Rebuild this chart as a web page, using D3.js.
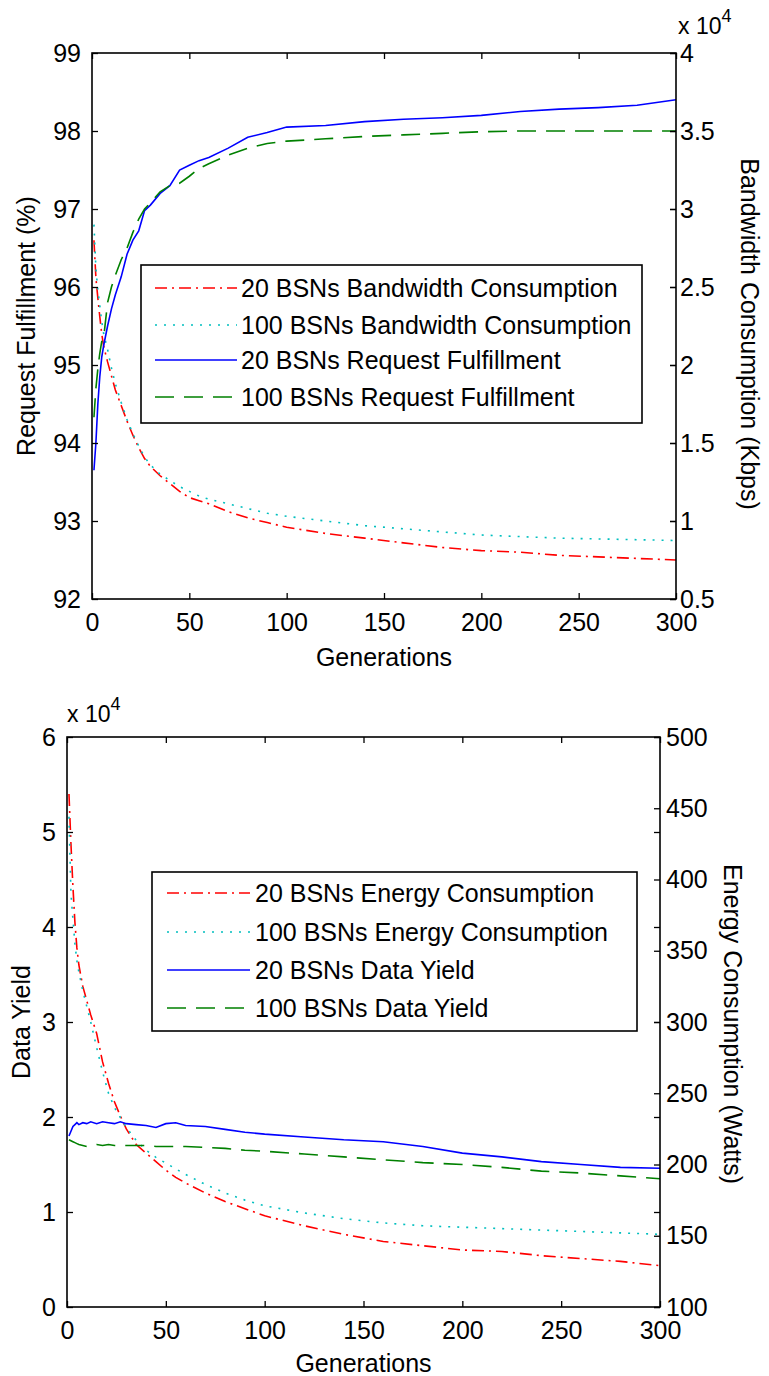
<!DOCTYPE html>
<html>
  <head>
    <meta charset="utf-8">
    <title>BSN generations</title>
    <script type="text/javascript" src="https://d3js.org/d3.v7.min.js"></script>
    <style>
      body { margin: 0; background: #fff; }
      text { font-family: "Liberation Sans", Arial, sans-serif; fill: #000; }
    </style>
  </head>

  <body>
    <script>

    // generations sampled along every curve
    var gens = [1, 2, 3, 4, 5, 6, 8, 10, 12, 15, 18, 21, 24, 27, 30, 35, 40, 45, 50, 55, 60,
                70, 80, 90, 100, 120, 140, 160, 180, 200, 220, 240, 260, 280, 300];

    // top plot: request fulfillment (%) and bandwidth consumption (x 10^4 Kbps)
    var rf20  = [93.65, 94.0, 94.5, 94.85, 95.1, 95.25, 95.5, 95.72, 95.9, 96.13, 96.42, 96.6, 96.72, 96.98, 97.05,
                 97.2, 97.3, 97.5, 97.56, 97.62, 97.66, 97.78, 97.92, 97.98, 98.05, 98.07, 98.12, 98.15, 98.17, 98.2,
                 98.25, 98.28, 98.3, 98.33, 98.4];
    var rf100 = [94.33, 94.7, 94.95, 95.15, 95.3, 95.35, 95.8, 96.0, 96.15, 96.35, 96.5, 96.7, 96.87, 97.0, 97.08,
                 97.22, 97.3, 97.33, 97.42, 97.52, 97.58, 97.69, 97.78, 97.84, 97.87, 97.9, 97.93, 97.95, 97.97, 97.99,
                 98.0, 98.0, 98.0, 98.0, 98.0];
    var bw20  = [2.8, 2.56, 2.43, 2.31, 2.2, 2.12, 2.02, 1.93, 1.84, 1.74, 1.64, 1.55, 1.47, 1.4, 1.35,
                 1.29, 1.24, 1.19, 1.15, 1.13, 1.11, 1.06, 1.02, 0.99, 0.96, 0.92, 0.89, 0.86, 0.83, 0.81,
                 0.8, 0.78, 0.77, 0.76, 0.75];
    var bw100 = [2.9, 2.62, 2.48, 2.38, 2.28, 2.2, 2.1, 1.98, 1.88, 1.76, 1.65, 1.56, 1.48, 1.41, 1.36,
                 1.3, 1.26, 1.22, 1.19, 1.16, 1.14, 1.11, 1.08, 1.05, 1.03, 1.0, 0.97, 0.95, 0.93, 0.91,
                 0.9, 0.89, 0.885, 0.88, 0.875];

    // bottom plot: data yield (x 10^4) and energy consumption (Watts)
    var dy20  = [1.8, 1.85, 1.9, 1.92, 1.94, 1.92, 1.94, 1.93, 1.95, 1.93, 1.95, 1.94, 1.93, 1.95, 1.93,
                 1.92, 1.91, 1.89, 1.93, 1.94, 1.91, 1.9, 1.87, 1.84, 1.82, 1.79, 1.76, 1.74, 1.69, 1.62,
                 1.58, 1.53, 1.5, 1.47, 1.46];
    var dy100 = [1.76, 1.75, 1.74, 1.73, 1.72, 1.71, 1.7, 1.69, 1.7, 1.71, 1.7, 1.71, 1.7, 1.7, 1.7,
                 1.7, 1.7, 1.69, 1.69, 1.69, 1.69, 1.68, 1.67, 1.65, 1.64, 1.61, 1.58, 1.55, 1.52, 1.5,
                 1.47, 1.43, 1.41, 1.38, 1.35];
    var en20  = [460, 425, 395, 370, 352, 340, 325, 315, 305, 292, 272, 257, 244, 234, 225,
                 214, 208, 202, 196, 191, 187, 180, 174, 169, 164, 157, 151, 146, 143, 140,
                 139, 136, 134, 132, 129];
    var en100 = [444, 390, 372, 355, 343, 335, 322, 311, 300, 282, 265, 250, 240, 233, 226,
                 217, 210, 205, 201, 197, 193, 186, 180, 175, 171, 166, 162, 159, 157, 156,
                 155, 154, 153, 152, 151];

    // tick labels
    var xTicks   = [0, 50, 100, 150, 200, 250, 300];
    var rfTicks  = [92, 93, 94, 95, 96, 97, 98, 99];
    var bwTicks  = [0.5, 1, 1.5, 2, 2.5, 3, 3.5, 4];
    var dyTicks  = [0, 1, 2, 3, 4, 5, 6];
    var enTicks  = [100, 150, 200, 250, 300, 350, 400, 450, 500];

    var styles = {
      red:   { color: "#ff0000", dash: "12,5,2,5" },
      cyan:  { color: "#00bfbf", dash: "2,7" },
      blue:  { color: "#0000ff", dash: null },
      green: { color: "#008000", dash: "19,10" }
    };

    var width = 769, height = 1376;
    var svg = d3.select("body").append("svg")
                .attr("width", width)
                .attr("height", height);

    function drawPanel(p) {
      var x = d3.scaleLinear().domain([0, 300]).range([p.left, p.right]);
      var yL = d3.scaleLinear().domain(p.leftDomain).range([p.bottom, p.top]);
      var yR = d3.scaleLinear().domain(p.rightDomain).range([p.bottom, p.top]);
      var g = svg.append("g");

      // curves
      p.series.forEach(function(s) {
        var y = s.axis == "left" ? yL : yR;
        var line = d3.line()
                     .x(function(d, i) { return x(gens[i]); })
                     .y(function(d) { return y(d); });
        g.append("path")
         .datum(s.values)
         .attr("fill", "none")
         .attr("stroke", styles[s.style].color)
         .attr("stroke-width", 1.6)
         .attr("stroke-dasharray", styles[s.style].dash)
         .attr("d", line);
      });

      // axes, ticks point inward
      var bottomAx = d3.axisBottom(x).tickValues(xTicks).tickSizeInner(-6).tickSizeOuter(0).tickPadding(14);
      var topAx = d3.axisTop(x).tickValues(xTicks).tickSizeInner(-6).tickSizeOuter(0).tickFormat("");
      var leftAx = d3.axisLeft(yL).tickValues(p.leftTicks).tickSizeInner(-6).tickSizeOuter(0).tickPadding(11)
                     .tickFormat(d3.format("~g"));
      var mirrorAx = d3.axisRight(yL).tickValues(p.leftTicks).tickSizeInner(-6).tickSizeOuter(0).tickFormat("");
      var rightAx = d3.axisRight(yR).tickValues(p.rightTicks).tickSizeInner(-6).tickSizeOuter(0).tickPadding(p.rightPad)
                      .tickFormat(d3.format("~g"));

      var axes = [
        [bottomAx, "translate(0," + p.bottom + ")"],
        [topAx, "translate(0," + p.top + ")"],
        [leftAx, "translate(" + p.left + ",0)"],
        [mirrorAx, "translate(" + p.right + ",0)"],
        [rightAx, "translate(" + p.right + ",0)"]
      ];
      axes.forEach(function(a) {
        var ax = g.append("g").attr("transform", a[1]).call(a[0]);
        ax.select(".domain").remove();
        ax.selectAll("line").attr("stroke", "#000").attr("stroke-width", 1.3);
        ax.selectAll("text").style("font-size", "25px").attr("fill", "#000");
      });

      g.append("rect")
       .attr("x", p.left).attr("y", p.top)
       .attr("width", p.right - p.left).attr("height", p.bottom - p.top)
       .attr("fill", "none").attr("stroke", "#000").attr("stroke-width", 1.6);

      // axis titles
      g.append("text")
       .attr("x", (p.left + p.right) / 2).attr("y", p.xTitleY)
       .attr("text-anchor", "middle").style("font-size", "25px")
       .text("Generations");
      g.append("text")
       .attr("transform", "translate(" + p.leftTitleX + "," + p.leftTitleY + ") rotate(-90)")
       .attr("text-anchor", "middle").style("font-size", "25px")
       .text(p.leftTitle);
      g.append("text")
       .attr("transform", "translate(" + p.rightTitleX + "," + p.rightTitleY + ") rotate(90)")
       .attr("text-anchor", "middle").style("font-size", "25px")
       .text(p.rightTitle);

      // exponent note
      var ex = g.append("text")
                .attr("x", p.expX).attr("y", p.expY)
                .style("font-size", "23px");
      ex.append("tspan").text("x 10");
      ex.append("tspan").attr("dy", -12).style("font-size", "18px").text("4");

      // legend
      var lg = p.legend;
      g.append("rect")
       .attr("x", lg.x0).attr("y", lg.y0)
       .attr("width", lg.x1 - lg.x0).attr("height", lg.y1 - lg.y0)
       .attr("fill", "#fff").attr("stroke", "#000").attr("stroke-width", 1.6);
      p.series.forEach(function(s, i) {
        var cy = lg.rows[i];
        g.append("line")
         .attr("x1", lg.lineX0).attr("x2", lg.lineX1)
         .attr("y1", cy).attr("y2", cy)
         .attr("stroke", styles[s.style].color)
         .attr("stroke-width", 1.6)
         .attr("stroke-dasharray", styles[s.style].dash);
        g.append("text")
         .attr("x", lg.textX).attr("y", cy + 9)
         .style("font-size", "25px")
         .text(s.name);
      });
    }

    drawPanel({
      left: 92, right: 676, top: 53, bottom: 599,
      leftDomain: [92, 99], rightDomain: [0.5, 4],
      leftTicks: rfTicks, rightTicks: bwTicks, rightPad: 4,
      xTitleY: 666,
      leftTitle: "Request Fulfillment (%)", leftTitleX: 35, leftTitleY: 326,
      rightTitle: "Bandwidth Consumption (Kbps)", rightTitleX: 741, rightTitleY: 334,
      expX: 678, expY: 34,
      series: [
        { name: "20 BSNs Bandwidth Consumption", values: bw20, axis: "right", style: "red" },
        { name: "100 BSNs Bandwidth Consumption", values: bw100, axis: "right", style: "cyan" },
        { name: "20 BSNs Request Fulfillment", values: rf20, axis: "left", style: "blue" },
        { name: "100 BSNs Request Fulfillment", values: rf100, axis: "left", style: "green" }
      ],
      legend: { x0: 141, y0: 265, x1: 642, y1: 423, rows: [288, 325, 360, 397],
                lineX0: 155, lineX1: 237, textX: 241 }
    });

    drawPanel({
      left: 67, right: 660, top: 737, bottom: 1307,
      leftDomain: [0, 6], rightDomain: [100, 500],
      leftTicks: dyTicks, rightTicks: enTicks, rightPad: 6,
      xTitleY: 1372,
      leftTitle: "Data Yield", leftTitleX: 30, leftTitleY: 1022,
      rightTitle: "Energy Consumption (Watts)", rightTitleX: 724, rightTitleY: 1024,
      expX: 67, expY: 722,
      series: [
        { name: "20 BSNs Energy Consumption", values: en20, axis: "right", style: "red" },
        { name: "100 BSNs Energy Consumption", values: en100, axis: "right", style: "cyan" },
        { name: "20 BSNs Data Yield", values: dy20, axis: "left", style: "blue" },
        { name: "100 BSNs Data Yield", values: dy100, axis: "left", style: "green" }
      ],
      legend: { x0: 152, y0: 872, x1: 637, y1: 1031, rows: [893, 932, 970, 1008],
                lineX0: 167, lineX1: 250, textX: 255 }
    });

    </script>
  </body>
</html>
